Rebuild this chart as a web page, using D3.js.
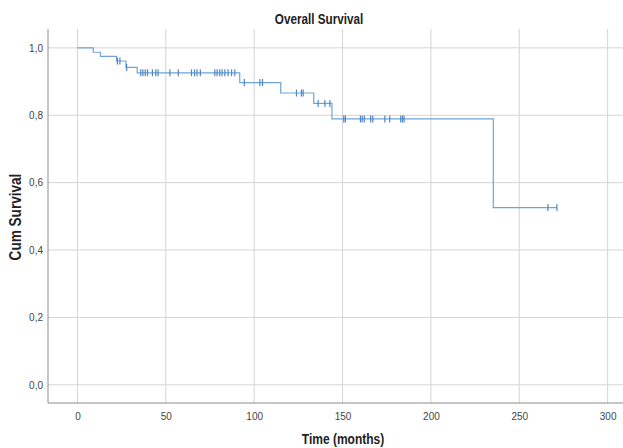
<!DOCTYPE html>
<html>
<head>
<meta charset="utf-8">
<script src="https://cdn.jsdelivr.net/npm/d3@7"></script>
<style>
  body { margin: 0; background: #fff; }
  text { font-family: "Liberation Sans", Arial, sans-serif; }
</style>
</head>
<body>
<script>
  // Kaplan-Meier : temps des évènements et survie cumulée après chaque saut
  var eventTimes = [0, 8.9, 13.0, 22.1, 27.4, 33.8, 91.8, 115.0, 133.7, 144.0, 235.3];
  var survival = [1.0, 0.987, 0.975, 0.961, 0.942, 0.926, 0.897, 0.866, 0.835, 0.789, 0.526];

  // Observations censurées (mois)
  var censored = [22.6, 24.0, 27.8,
    35.8, 37.0, 38.3, 39.6, 42.4, 44.3, 45.6, 52.3, 57.0,
    64.5, 66.2, 67.6, 69.5, 77.7, 79.0, 80.5, 81.8, 83.4, 85.2, 87.2, 89.0,
    94.4, 103.2, 104.7,
    123.9, 126.7, 127.7,
    136.2, 140.0, 142.8,
    150.7, 151.6, 160.1, 161.1, 162.3, 165.9, 167.1, 173.9, 176.7, 182.9, 183.9, 184.8,
    266.2, 271.3];

  var xTicks = [0, 50, 100, 150, 200, 250, 300];
  var yTicks = [0, 0.2, 0.4, 0.6, 0.8, 1.0];

  /***** Configuration *****/
  var width = 623, height = 448;
  var plot = { left: 48, top: 29, right: 623, bottom: 403 };

  var x = d3.scaleLinear().domain([-16.7, 308.7]).range([plot.left, plot.right]);
  var y = d3.scaleLinear().domain([-0.054, 1.056]).range([plot.bottom, plot.top]);

  var svg = d3.select("body").append("svg")
    .attr("width", width)
    .attr("height", height);

  // Grille
  svg.append("g").selectAll("line")
    .data(yTicks).enter().append("line")
    .attr("x1", plot.left).attr("x2", plot.right)
    .attr("y1", function(d) { return y(d); })
    .attr("y2", function(d) { return y(d); })
    .attr("stroke", "#d4d4d4").attr("stroke-width", 1);

  svg.append("g").selectAll("line")
    .data(xTicks).enter().append("line")
    .attr("y1", plot.top).attr("y2", plot.bottom)
    .attr("x1", function(d) { return x(d); })
    .attr("x2", function(d) { return x(d); })
    .attr("stroke", "#d4d4d4").attr("stroke-width", 1);

  // Axes
  var fmt = function(d) { return d3.format(".1f")(d).replace(".", ","); };

  var yAxis = svg.append("g")
    .attr("transform", "translate(" + plot.left + ",0)")
    .call(d3.axisLeft(y).tickValues(yTicks).tickFormat(fmt).tickSize(0).tickPadding(5));
  yAxis.select(".domain").attr("d", "M0," + plot.top + "V" + plot.bottom).attr("stroke", "#8c8c8c");

  var xAxis = svg.append("g")
    .attr("transform", "translate(0," + plot.bottom + ")")
    .call(d3.axisBottom(x).tickValues(xTicks).tickSize(0).tickPadding(10));
  xAxis.select(".domain").attr("d", "M" + plot.left + ",0H" + plot.right).attr("stroke", "#8c8c8c");

  svg.selectAll(".tick text")
    .attr("fill", "#444")
    .style("font-size", "10px");

  // Courbe de survie
  var pts = eventTimes.map(function(t, i) { return [t, survival[i]]; });
  pts.push([d3.max(censored), survival[survival.length - 1]]);

  var line = d3.line()
    .x(function(d) { return x(d[0]); })
    .y(function(d) { return y(d[1]); })
    .curve(d3.curveStepAfter);

  svg.append("path")
    .datum(pts)
    .attr("d", line)
    .attr("fill", "none")
    .attr("stroke", "#6fa3d6")
    .attr("stroke-width", 1.2);

  function survAt(t) {
    var i = d3.bisectRight(eventTimes, t) - 1;
    return survival[Math.max(i, 0)];
  }

  svg.append("g").selectAll("line")
    .data(censored).enter().append("line")
    .attr("x1", function(d) { return x(d); })
    .attr("x2", function(d) { return x(d); })
    .attr("y1", function(d) { return y(survAt(d)) - 3.5; })
    .attr("y2", function(d) { return y(survAt(d)) + 3.5; })
    .attr("stroke", "#4f86c6")
    .attr("stroke-width", 1.2);

  // Titres (police étroite simulée par une mise à l'échelle horizontale)
  svg.append("text")
    .attr("transform", "translate(319,24) scale(0.78,1)")
    .attr("text-anchor", "middle")
    .style("font-size", "15px").style("font-weight", "bold")
    .attr("fill", "#222")
    .text("Overall Survival");

  svg.append("text")
    .attr("transform", "translate(343,444) scale(0.8,1)")
    .attr("text-anchor", "middle")
    .style("font-size", "15px").style("font-weight", "bold")
    .attr("fill", "#222")
    .text("Time (months)");

  svg.append("text")
    .attr("transform", "translate(21,217) rotate(-90) scale(0.85,1)")
    .attr("text-anchor", "middle")
    .style("font-size", "16px").style("font-weight", "bold")
    .attr("fill", "#222")
    .text("Cum Survival");
</script>
</body>
</html>
